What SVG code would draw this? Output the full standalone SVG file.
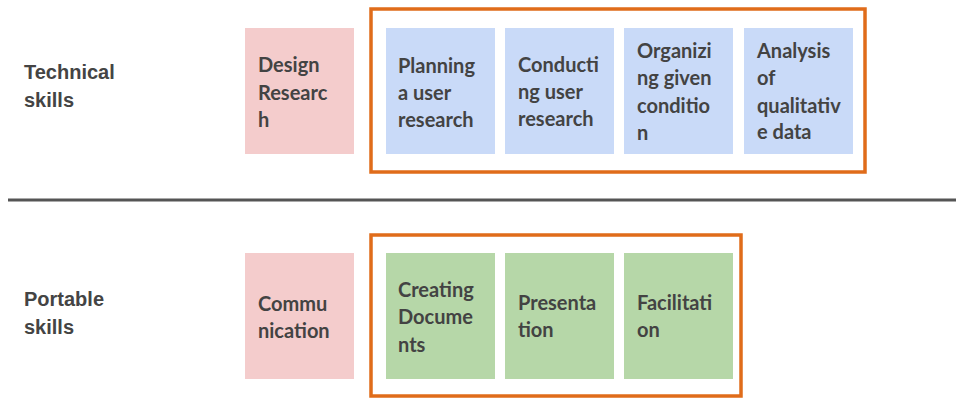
<svg xmlns="http://www.w3.org/2000/svg" width="956" height="398" viewBox="0 0 956 398">
  <style>
    .row-label { font-family: "Liberation Sans", Arial, sans-serif; font-weight: bold; font-size: 20px; fill: #444444; }
    .card-text { font-family: Lato, "Liberation Sans", sans-serif; font-weight: bold; font-size: 20px; fill: #434343; }
    .area { fill: #f4cccc; }
    .tech { fill: #c9daf8; }
    .port { fill: #b6d7a8; }
    .frame { fill: none; stroke: #e06c1a; stroke-width: 3.5; }
    .divider { stroke: #555555; stroke-width: 3; }
  </style>
  <rect width="956" height="398" fill="#ffffff"/>

  <!-- Row labels -->
  <g id="label-technical">
    <text class="row-label" x="24" y="79">Technical</text>
    <text class="row-label" x="24" y="107">skills</text>
  </g>
  <g id="label-portable">
    <text class="row-label" x="24" y="306">Portable</text>
    <text class="row-label" x="24" y="334">skills</text>
  </g>

  <!-- Divider between the two rows -->
  <g id="connectors">
    <line class="divider" x1="8" y1="200" x2="956" y2="200"/>
  </g>

  <!-- Technical row -->
  <g id="design-research">
    <rect class="area" x="245" y="28" width="109" height="126"/>
    <text class="card-text" x="258" y="72">Design</text>
    <text class="card-text" x="258" y="100">Researc</text>
    <text class="card-text" x="258" y="127">h</text>
  </g>
  <g id="technical-frame">
    <rect class="frame" x="371" y="9" width="494" height="163"/>
  </g>
  <g id="planning">
    <rect class="tech" x="386" y="28" width="109" height="126"/>
    <text class="card-text" x="398" y="73">Planning</text>
    <text class="card-text" x="398" y="100">a user</text>
    <text class="card-text" x="398" y="127">research</text>
  </g>
  <g id="conducting">
    <rect class="tech" x="505" y="28" width="109" height="126"/>
    <text class="card-text" x="518" y="72">Conducti</text>
    <text class="card-text" x="518" y="99">ng user</text>
    <text class="card-text" x="518" y="126">research</text>
  </g>
  <g id="organizing">
    <rect class="tech" x="624" y="28" width="109" height="126"/>
    <text class="card-text" x="637" y="58">Organizi</text>
    <text class="card-text" x="637" y="85">ng given</text>
    <text class="card-text" x="637" y="113">conditio</text>
    <text class="card-text" x="637" y="140">n</text>
  </g>
  <g id="analysis">
    <rect class="tech" x="744" y="28" width="109" height="126"/>
    <text class="card-text" x="757" y="58">Analysis</text>
    <text class="card-text" x="757" y="85">of</text>
    <text class="card-text" x="757" y="113">qualitativ</text>
    <text class="card-text" x="757" y="139">e data</text>
  </g>

  <!-- Portable row -->
  <g id="communication">
    <rect class="area" x="245" y="253" width="109" height="126"/>
    <text class="card-text" x="258" y="311">Commu</text>
    <text class="card-text" x="258" y="338">nication</text>
  </g>
  <g id="portable-frame">
    <rect class="frame" x="371" y="235" width="370" height="161"/>
  </g>
  <g id="creating-documents">
    <rect class="port" x="386" y="253" width="109" height="126"/>
    <text class="card-text" x="398" y="297">Creating</text>
    <text class="card-text" x="398" y="324">Docume</text>
    <text class="card-text" x="398" y="352">nts</text>
  </g>
  <g id="presentation">
    <rect class="port" x="505" y="253" width="109" height="126"/>
    <text class="card-text" x="518" y="310">Presenta</text>
    <text class="card-text" x="518" y="337">tion</text>
  </g>
  <g id="facilitation">
    <rect class="port" x="624" y="253" width="109" height="126"/>
    <text class="card-text" x="637" y="310">Facilitati</text>
    <text class="card-text" x="637" y="337">on</text>
  </g>
</svg>
